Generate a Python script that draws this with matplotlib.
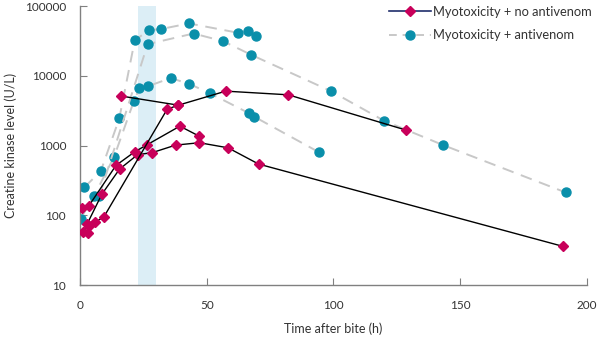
import matplotlib
matplotlib.use("Agg")
import matplotlib.pyplot as plt
from matplotlib.lines import Line2D

# ============================================================================
# Myotoxicity + no antivenom (one list per patient)
no_av_x = [
    [0.7, 3.4, 14.2, 21.7, 26.5, 39.4, 46.8],
    [1.3, 8.6, 15.6, 22.7, 28.6, 37.7, 47.1, 58.4, 70.5, 190.4],
    [2.6, 5.9, 9.5, 34.4, 38.8, 57.5, 82.2, 128.6],
    [3.3, 3.7],
    [16.3, 38.8],
]
no_av_y = [
    [127, 135, 520, 820, 1030, 1900, 1380],
    [58, 200, 460, 740, 795, 1016, 1100, 930, 543, 36],
    [74, 79, 96, 3330, 3800, 6040, 5350, 1670],
    [56, 70],
    [5130, 3800],
]

# Myotoxicity + antivenom
av_x = [
    [0.3, 5.5, 13.4, 21.3, 23.4, 26.9, 35.8, 43.0, 51.4, 66.8, 68.8, 94.2],
    [1.7, 8.2, 15.5, 21.6, 27.2, 31.8, 43.0, 62.5, 66.4, 69.4],
    [7.6, 26.7, 44.8, 56.4, 67.6, 99.0, 120.0, 143.3, 191.6],
]
av_y = [
    [90, 189, 680, 4390, 6600, 7130, 9290, 7700, 5600, 2900, 2590, 807],
    [252, 430, 2450, 32200, 45300, 46800, 56500, 41400, 44200, 36800],
    [189, 28500, 40500, 31500, 20000, 6040, 2270, 1016, 213],
]

av_window = (23, 30)
y_ticks = [10, 100, 1000, 10000, 100000]
x_ticks = [0, 50, 100, 150, 200]
# ============================================================================

red = '#C8005A'
teal = '#0A8FAA'
grey_dash = '#C8C8C8'
txt = '#333333'

plt.rcParams['font.family'] = ['Lato', 'DejaVu Sans']

fig = plt.figure(figsize=(6.0, 3.41), dpi=100)
ax = fig.add_axes([0.1333, 0.164, 0.845, 0.818])

ax.axvspan(av_window[0], av_window[1], color='#DCEEF6', zorder=0, lw=0)

for xs, ys in zip(av_x, av_y):
    ax.plot(xs, ys, color=grey_dash, lw=1.4, dashes=(6, 4), zorder=2,
            marker='o', ms=6.5, mfc=teal, mec=teal)

for xs, ys in zip(no_av_x, no_av_y):
    ax.plot(xs, ys, color='black', lw=1.0, zorder=3,
            marker='D', ms=5, mfc=red, mec=red)

ax.set_yscale('log')
ax.set_ylim(10, 100000)
ax.set_xlim(0, 200)
ax.set_yticks(y_ticks)
ax.set_yticklabels([str(v) for v in y_ticks])
ax.minorticks_off()
ax.set_xticks(x_ticks)

for s in ['top', 'right']:
    ax.spines[s].set_visible(False)
for s in ['left', 'bottom']:
    ax.spines[s].set_color('#808080')
    ax.spines[s].set_linewidth(1.0)

ax.tick_params(axis='both', direction='in', length=5, color='#808080',
               labelsize=8.5, labelcolor=txt)
ax.tick_params(axis='x', pad=11)
ax.tick_params(axis='y', pad=10)

ax.set_xlabel('Time after bite (h)', fontsize=9, color=txt, labelpad=8)
ax.set_ylabel('Creatine kinase level (U/L)', fontsize=9, color=txt, labelpad=6)

handles = [
    Line2D([], [], color='#1F2D6B', lw=1.2, marker='D', ms=5, mfc=red, mec=red),
    Line2D([], [], color=grey_dash, lw=1.4, dashes=(4, 3), marker='o', ms=6.5,
           mfc=teal, mec=teal),
]
ax.legend(handles, ['Myotoxicity + no antivenom', 'Myotoxicity + antivenom'],
          loc='upper right', bbox_to_anchor=(1.025, 1.03), frameon=False,
          fontsize=9.3, labelcolor=txt, handlelength=3.2, handletextpad=0.2,
          borderaxespad=0.2, labelspacing=0.9)

fig.savefig('out.png', dpi=100)
